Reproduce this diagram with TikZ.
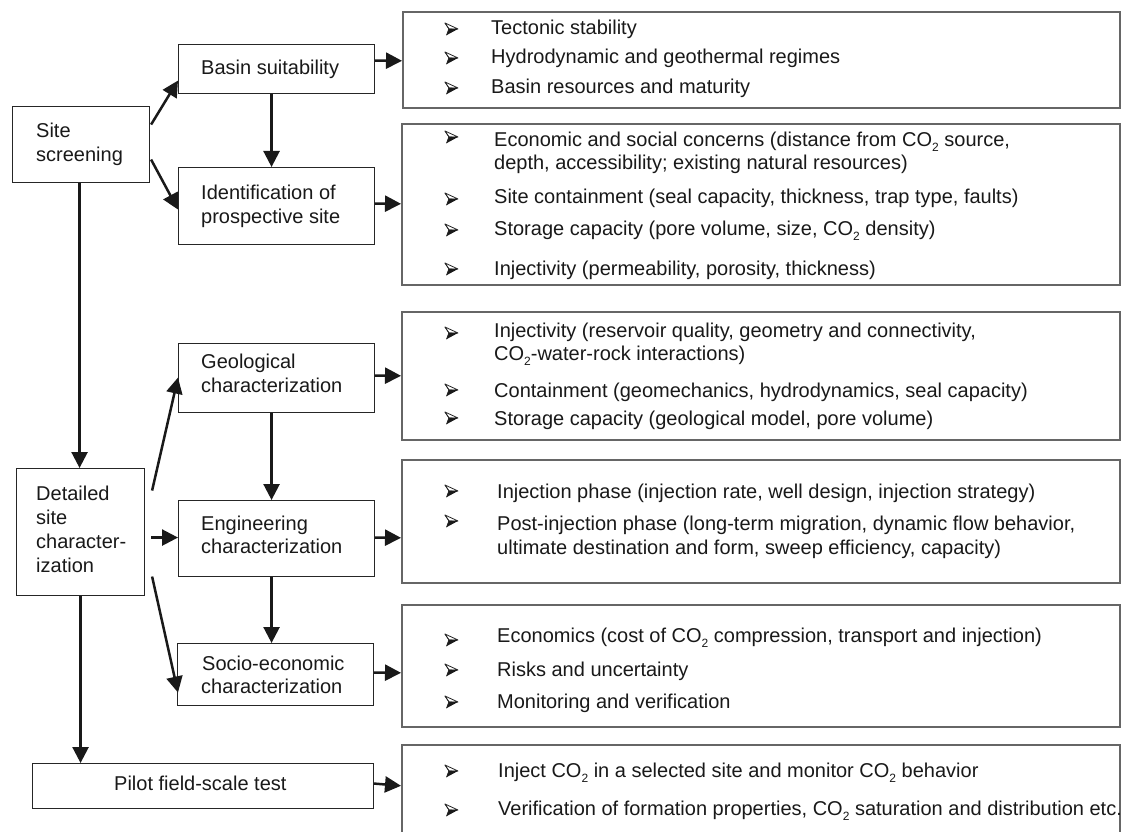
\documentclass[tikz,border=0pt]{standalone}
\usepackage{fontspec}
\setmainfont{Liberation Sans}
\usetikzlibrary{arrows.meta}
\newcommand\cotwo{CO\raisebox{-5pt}{\fontsize{12}{12}\selectfont 2}}
\begin{document}
\begin{tikzpicture}[x=1pt,y=-1pt,
  box/.style={draw=black!85,line width=1.1pt,rectangle,inner sep=0pt,anchor=north west},
  rbox/.style={draw=black!60,line width=1.6pt,rectangle,inner sep=0pt,anchor=north west},
  txt/.style={inner sep=0pt,anchor=base west,font=\fontsize{20}{24}\selectfont,text=black!90},
  arr/.style={line width=2.5pt,draw=black!90,-{Triangle[length=16pt,width=16pt]}},
  bul/.pic={
    \draw[black!85,line width=0.8pt,fill=white,line join=round] (0,0)--(13,6)--(4,6)--cycle;
    \fill[black!90] (3.6,5.6)--(13,6)--(1.5,12.2)--cycle;
    \draw[black!85,line width=0.8pt] (0,0)--(4,6)--(1.5,12.2);
  }]
\useasboundingbox (0,0) rectangle (1122,832);
\fill[white] (0,0) rectangle (1122,832);

% left and middle boxes
\node[box,minimum width=137pt,minimum height=76pt] (screen) at (12,106) {};
\node[box,minimum width=196pt,minimum height=49pt] (basin) at (178,44) {};
\node[box,minimum width=196pt,minimum height=77pt] (ident) at (178,167) {};
\node[box,minimum width=196pt,minimum height=69pt] (geo) at (178,343) {};
\node[box,minimum width=196pt,minimum height=76pt] (eng) at (178,500) {};
\node[box,minimum width=196pt,minimum height=62pt] (socio) at (177,643) {};
\node[box,minimum width=128pt,minimum height=127pt] (detail) at (16,468) {};
\node[box,minimum width=341pt,minimum height=45pt] (pilot) at (32,763) {};

% right boxes
\node[rbox,minimum width=717pt,minimum height=96pt] (r1) at (402,11) {};
\node[rbox,minimum width=718pt,minimum height=161pt] (r2) at (401,123) {};
\node[rbox,minimum width=718pt,minimum height=128pt] (r3) at (401,311) {};
\node[rbox,minimum width=718pt,minimum height=123pt] (r4) at (401,459) {};
\node[rbox,minimum width=718pt,minimum height=122pt] (r5) at (401,604) {};
\node[rbox,minimum width=718pt,minimum height=95pt] (r6) at (401,744) {};

% left texts
\node[txt] (t-screen1) at (36,138) {Site};
\node[txt] (t-screen2) at (36,162) {screening};
\node[txt] (t-basin) at (201,75) {Basin suitability};
\node[txt] (t-ident1) at (201,199) {Identification of};
\node[txt] (t-ident2) at (201,223) {prospective site};
\node[txt] (t-geo1) at (201,368) {Geological};
\node[txt] (t-geo2) at (201,392) {characterization};
\node[txt] (t-eng1) at (201,530) {Engineering};
\node[txt] (t-eng2) at (201,553) {characterization};
\node[txt] (t-soc1) at (202,670) {Socio-economic};
\node[txt] (t-soc2) at (201,693) {characterization};
\node[txt] (t-det1) at (36,500) {Detailed};
\node[txt] (t-det2) at (36,524) {site};
\node[txt] (t-det3) at (36,548) {character-};
\node[txt] (t-det4) at (36,572) {ization};
\node[txt] (t-pilot) at (114,790) {Pilot field-scale test};

% right texts
\node[txt] (r1a) at (491,35) {Tectonic stability};
\node[txt] (r1b) at (491,64) {Hydrodynamic and geothermal regimes};
\node[txt] (r1c) at (491,94) {Basin resources and maturity};
\pic at (445,23) {bul}; \pic at (445,52) {bul}; \pic at (445,82) {bul};

\node[txt] (r2a) at (494,147) {Economic and social concerns (distance from \cotwo\ source,};
\node[txt] (r2b) at (494,170) {depth, accessibility; existing natural resources)};
\node[txt] (r2c) at (494,203) {Site containment (seal capacity, thickness, trap type, faults)};
\node[txt] (r2d) at (494,235) {Storage capacity (pore volume, size, \cotwo\ density)};
\node[txt] (r2e) at (494,275) {Injectivity (permeability, porosity, thickness)};
\pic at (445,131) {bul}; \pic at (445,193) {bul}; \pic at (445,224) {bul}; \pic at (445,263) {bul};

\node[txt] (r3a) at (494,337) {Injectivity (reservoir quality, geometry and connectivity,};
\node[txt] (r3b) at (494,360) {\cotwo-water-rock interactions)};
\node[txt] (r3c) at (494,397) {Containment (geomechanics, hydrodynamics, seal capacity)};
\node[txt] (r3d) at (494,425) {Storage capacity (geological model, pore volume)};
\pic at (445,327) {bul}; \pic at (445,384) {bul}; \pic at (445,412) {bul};

\node[txt] (r4a) at (497,498) {Injection phase (injection rate, well design, injection strategy)};
\node[txt] (r4b) at (497,530) {Post-injection phase (long-term migration, dynamic flow behavior,};
\node[txt] (r4c) at (497,554) {ultimate destination and form, sweep efficiency, capacity)};
\pic at (445,485) {bul}; \pic at (445,515) {bul};

\node[txt] (r5a) at (497,642) {Economics (cost of \cotwo\ compression, transport and injection)};
\node[txt] (r5b) at (497,676) {Risks and uncertainty};
\node[txt] (r5c) at (497,708) {Monitoring and verification};
\pic at (445,634) {bul}; \pic at (445,664) {bul}; \pic at (445,696) {bul};

\node[txt] (r6a) at (498,777) {Inject \cotwo\ in a selected site and monitor \cotwo\ behavior};
\node[txt] (r6b) at (498,815) {Verification of formation properties, \cotwo\ saturation and distribution etc.};
\pic at (445,765) {bul}; \pic at (445,804) {bul};

% connectors
\draw[arr] ([shift={(1,-20)}]screen.east) -- ([shift={(0,11.5)}]basin.west);
\draw[arr] ([shift={(1,15)}]screen.east) -- ([shift={(0,3.5)}]ident.west);
\draw[arr] ([shift={(-5,0)}]basin.south) -- ([shift={(-5,0)}]ident.north);
\draw[arr] ([shift={(0,-8.5)}]basin.east) -- ([shift={(0,1)}]r1.west);
\draw[arr] ([shift={(0,-2.5)}]ident.east) -- ([shift={(0,-0.5)}]r2.west);
\draw[arr] ([shift={(-1.5,0)}]screen.south) -- ([shift={(-1,0)}]detail.north);
\draw[arr] ([shift={(7,-41.5)}]detail.east) -- ([shift={(0,-0.5)}]geo.west);
\draw[arr] ([shift={(6,5.5)}]detail.east) -- ([shift={(0,-1)}]eng.west);
\draw[arr] ([shift={(7,44.5)}]detail.east) -- ([shift={(1,18)}]socio.west);
\draw[arr] ([shift={(-5,0)}]geo.south) -- ([shift={(-5,0)}]eng.north);
\draw[arr] ([shift={(-5,0)}]eng.south) -- ([shift={(-4,0)}]socio.north);
\draw[arr] ([shift={(0,-2.5)}]geo.east) -- (r3.west);
\draw[arr] ([shift={(0,-1)}]eng.east) -- ([shift={(0,16.5)}]r4.west);
\draw[arr] ([shift={(0,-2)}]socio.east) -- ([shift={(0,7)}]r5.west);
\draw[arr] (detail.south) -- (detail.south |- pilot.north);
\draw[arr] ([shift={(0,-2.5)}]pilot.east) -- ([shift={(0,-6.5)}]r6.west);
\end{tikzpicture}
\end{document}
